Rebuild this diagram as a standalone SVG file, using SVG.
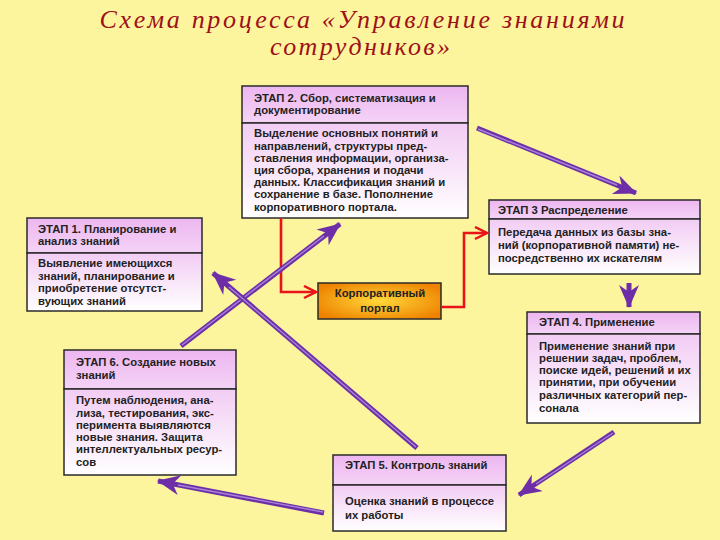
<svg xmlns="http://www.w3.org/2000/svg" width="720" height="540" viewBox="0 0 720 540">
<defs>
<linearGradient id="hdr" x1="0" y1="0" x2="0" y2="1"><stop offset="0" stop-color="#EDB6F0"/><stop offset="1" stop-color="#F4D3F6"/></linearGradient>
<linearGradient id="body" x1="0" y1="0" x2="0" y2="1"><stop offset="0" stop-color="#F2CCF4"/><stop offset="1" stop-color="#FFFFFF"/></linearGradient>
<radialGradient id="portal" cx="0.5" cy="0.5" r="0.6"><stop offset="0" stop-color="#FFD83A"/><stop offset="1" stop-color="#EE8200"/></radialGradient>
<marker id="pa" markerUnits="userSpaceOnUse" markerWidth="26" markerHeight="22" refX="22" refY="10" orient="auto"><path d="M0,0 L23,10 L0,20 L7,10 Z" fill="#6E2EA8"/></marker>
<marker id="ra" markerUnits="userSpaceOnUse" markerWidth="16" markerHeight="16" refX="13" refY="7" orient="auto"><path d="M1,1 L13,7 L1,13" fill="none" stroke="#E8141A" stroke-width="2.5"/></marker>
<style>
.bx{stroke:#2A2A2A;stroke-width:1.5}
.t{font-family:"Liberation Sans",Arial,sans-serif;font-weight:bold;font-size:11.3px;fill:#222}
.tc{font-family:"Liberation Sans",Arial,sans-serif;font-weight:bold;font-size:11.3px;fill:#222;text-anchor:middle}
.title{font-family:"Liberation Serif","DejaVu Serif",serif;font-style:italic;font-size:26px;fill:#9E1018;text-anchor:middle}
.pl{fill:none;stroke:#6E2EA8;stroke-width:5}
.pi{fill:none;stroke:#A585D8;stroke-width:1.4}
.rl{fill:none;stroke:#E8141A;stroke-width:2.6}
</style>
</defs>
<rect x="0" y="0" width="720" height="540" fill="#FDF59E"/>
<g id="title">
<text class="title" x="362" y="28" textLength="525" lengthAdjust="spacing">Схема процесса «Управление знаниями</text>
<text class="title" x="360" y="55" textLength="180" lengthAdjust="spacing">сотрудников»</text>
</g>
<g id="stage2">
<rect x="242" y="86" width="226" height="37" fill="url(#hdr)" class="bx"/>
<rect x="242" y="123" width="226" height="95" fill="url(#body)" class="bx"/>
<text class="t" x="254" y="102">ЭТАП 2. Сбор, систематизация и</text>
<text class="t" x="254" y="114">документирование</text>
<text class="t" x="254" y="137">Выделение основных понятий и</text>
<text class="t" x="254" y="150">направлений, структуры пред-</text>
<text class="t" x="254" y="162">ставления информации, организа-</text>
<text class="t" x="254" y="174">ция сбора, хранения и подачи</text>
<text class="t" x="254" y="186">данных. Классификация знаний и</text>
<text class="t" x="254" y="198">сохранение в базе. Пополнение</text>
<text class="t" x="254" y="211">корпоративного портала.</text>
</g>
<g id="stage1">
<rect x="27" y="218" width="175" height="35" fill="url(#hdr)" class="bx"/>
<rect x="27" y="253" width="175" height="58" fill="url(#body)" class="bx"/>
<text class="t" x="38" y="233">ЭТАП 1. Планирование и</text>
<text class="t" x="38" y="245">анализ знаний</text>
<text class="t" x="38" y="267">Выявление имеющихся</text>
<text class="t" x="38" y="280">знаний, планирование и</text>
<text class="t" x="38" y="292">приобретение отсутст-</text>
<text class="t" x="38" y="305">вующих знаний</text>
</g>
<g id="stage3">
<rect x="489" y="200" width="211" height="19" fill="url(#hdr)" class="bx"/>
<rect x="489" y="219" width="211" height="55" fill="url(#body)" class="bx"/>
<text class="t" x="498" y="214">ЭТАП 3 Распределение</text>
<text class="t" x="498" y="236">Передача данных из базы зна-</text>
<text class="t" x="498" y="249">ний (корпоративной памяти) не-</text>
<text class="t" x="498" y="262">посредственно их искателям</text>
</g>
<g id="portal">
<rect x="318" y="283" width="123" height="36" fill="url(#portal)" class="bx"/>
<text class="tc" x="380" y="297">Корпоративный</text>
<text class="tc" x="380" y="312">портал</text>
</g>
<g id="stage4">
<rect x="527" y="312" width="173" height="22" fill="url(#hdr)" class="bx"/>
<rect x="527" y="334" width="173" height="89" fill="url(#body)" class="bx"/>
<text class="t" x="539" y="326">ЭТАП 4. Применение</text>
<text class="t" x="539" y="350">Применение знаний при</text>
<text class="t" x="539" y="362">решении задач, проблем,</text>
<text class="t" x="539" y="374">поиске идей, решений и их</text>
<text class="t" x="539" y="386">принятии, при обучении</text>
<text class="t" x="539" y="399">различных категорий пер-</text>
<text class="t" x="539" y="412">сонала</text>
</g>
<g id="stage6">
<rect x="64" y="350" width="172" height="39" fill="url(#hdr)" class="bx"/>
<rect x="64" y="389" width="172" height="86" fill="url(#body)" class="bx"/>
<text class="t" x="76" y="366">ЭТАП 6. Создание новых</text>
<text class="t" x="76" y="379">знаний</text>
<text class="t" x="76" y="404">Путем наблюдения, ана-</text>
<text class="t" x="76" y="417">лиза, тестирования, экс-</text>
<text class="t" x="76" y="429">перимента выявляются</text>
<text class="t" x="76" y="441">новые знания. Защита</text>
<text class="t" x="76" y="453">интеллектуальных ресур-</text>
<text class="t" x="76" y="466">сов</text>
</g>
<g id="stage5">
<rect x="333" y="455" width="173" height="30" fill="url(#hdr)" class="bx"/>
<rect x="333" y="485" width="173" height="46" fill="url(#body)" class="bx"/>
<text class="t" x="345" y="469">ЭТАП 5. Контроль знаний</text>
<text class="t" x="345" y="505">Оценка знаний в процессе</text>
<text class="t" x="345" y="519">их работы</text>
</g>
<g id="connectors">
<path class="rl" d="M281,218 V292 H316" marker-end="url(#ra)"/>
<path class="rl" d="M441,307 H464 V233 H487" marker-end="url(#ra)"/>
<path class="pl" d="M477,128 L636,193" marker-end="url(#pa)"/>
<path class="pi" d="M478,129 L617,185"/>
<path class="pl" d="M629,283 L629,307" marker-end="url(#pa)"/>
<path class="pl" d="M614,432 L519,495" marker-end="url(#pa)"/>
<path class="pi" d="M613,433 L536,484"/>
<path class="pl" d="M324,513 L158,481" marker-end="url(#pa)"/>
<path class="pi" d="M323,512 L178,485"/>
<path class="pl" d="M181,346 L340,224" marker-end="url(#pa)"/>
<path class="pi" d="M182,345 L324,236"/>
<path class="pl" d="M417,448 L213,273" marker-end="url(#pa)"/>
<path class="pi" d="M416,447 L229,287"/>
</g>
</svg>
